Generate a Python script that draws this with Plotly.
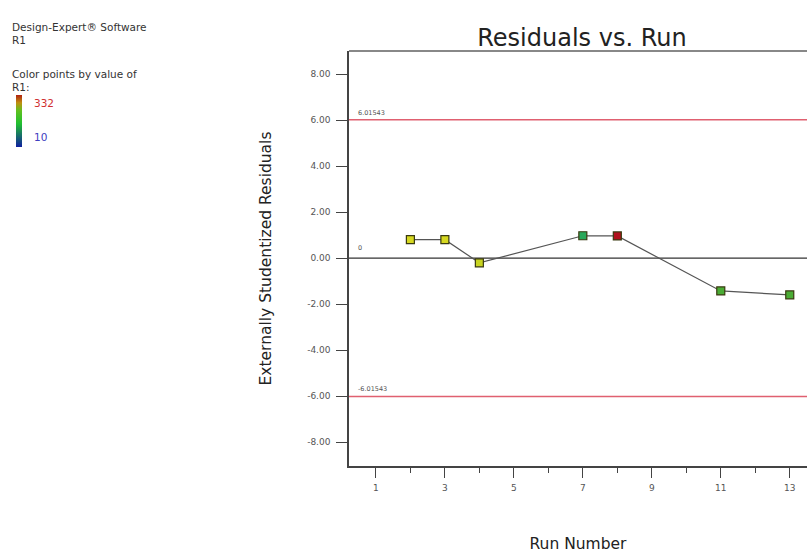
import plotly.graph_objects as go

runs = [2, 3, 4, 7, 8, 11, 13]
residuals = [0.80, 0.80, -0.21, 0.97, 0.96, -1.43, -1.60]
point_colors = ["#d6d820", "#d6d820", "#c8d420", "#2aa85a", "#b0101c", "#4aac34", "#4aac34"]
limit = 6.01543
y_ticks = [-8, -6, -4, -2, 0, 2, 4, 6, 8]
x_ticks = [1, 3, 5, 7, 9, 11, 13]

FONT = "DejaVu Sans, Liberation Sans, Arial, sans-serif"
W, H = 807, 553
L, T, B = 349, 51, 87
PW = W - L
PH = H - T - B

fig = go.Figure()

# zero and limit lines
fig.add_trace(go.Scatter(x=[0.2, 13.6], y=[0, 0], mode="lines",
                         line=dict(color="#333333", width=1.2), hoverinfo="skip", showlegend=False))
for v in (limit, -limit):
    fig.add_trace(go.Scatter(x=[0.2, 13.6], y=[v, v], mode="lines",
                             line=dict(color="#e06070", width=1.5), hoverinfo="skip", showlegend=False))

fig.add_trace(go.Scatter(
    x=runs, y=residuals, mode="lines+markers",
    line=dict(color="#555555", width=1.2),
    marker=dict(symbol="square", size=8, color=point_colors,
                line=dict(color="#3a3a10", width=1.2)),
    showlegend=False))

# dummy trace for the colour bar
fig.add_trace(go.Scatter(
    x=[None], y=[None], mode="markers", hoverinfo="skip", showlegend=False,
    marker=dict(color=[10, 332], cmin=10, cmax=332,
                colorscale=[[0, "#1020a0"], [0.45, "#20c030"], [0.7, "#60c020"], [0.85, "#c09010"], [1, "#b02010"]],
                showscale=True,
                colorbar=dict(x=(16 - L) / PW, xanchor="left", y=(H - B - 121) / PH, yanchor="middle",
                              thickness=6, thicknessmode="pixels", len=52, lenmode="pixels",
                              xpad=0, ypad=0,
                              outlinewidth=0, showticklabels=False, ticks=""))))

fig.update_layout(
    width=W, height=H,
    margin=dict(l=L, r=0, t=T, b=B),
    paper_bgcolor="white", plot_bgcolor="white",
    font=dict(family=FONT, color="#333333"),
    title=dict(text="Residuals vs. Run", x=(582 - L) / PW, xref="paper", xanchor="center",
               y=1 - 38 / H, yref="container", yanchor="middle",
               font=dict(size=24, color="#222222", family=FONT)),
    xaxis=dict(range=[0.22, 13.5], tickmode="array", tickvals=x_ticks,
               ticktext=[str(v) for v in x_ticks],
               ticks="outside", ticklen=10, tickwidth=1.2, tickcolor="#444444",
               ticklabelstandoff=2,
               minor=dict(dtick=1, tick0=0, ticks="outside", ticklen=5, tickcolor="#444444", tickwidth=1.2, showgrid=False),
               showgrid=False, zeroline=False, showline=True, linecolor="#444444", linewidth=1.5,
               tickfont=dict(size=9, color="#555555"),
               title=dict(text="Run Number", font=dict(size=15.5, color="#222222"), standoff=50)),
    yaxis=dict(range=[-9.04, 9.0], tickmode="array", tickvals=y_ticks,
               ticktext=["%.2f" % v for v in y_ticks],
               ticks="outside", ticklen=11, tickwidth=1.2, tickcolor="#444444",
               ticklabelstandoff=4,
               showgrid=False, zeroline=False, showline=True, linecolor="#444444", linewidth=1.5,
               tickfont=dict(size=9, color="#555555"),
               title=dict(text="Externally Studentized Residuals", font=dict(size=15.5, color="#222222"), standoff=32)),
    shapes=[dict(type="line", xref="paper", yref="paper", x0=0, x1=1, y0=1, y1=1,
                 line=dict(color="#888888", width=2))],
)

ann = [
    dict(text="6.01543", x=0.015, xref="paper", y=limit, yref="y", xanchor="left", yanchor="bottom",
         showarrow=False, font=dict(size=6.5, color="#555555"), yshift=1),
    dict(text="-6.01543", x=0.015, xref="paper", y=-limit, yref="y", xanchor="left", yanchor="bottom",
         showarrow=False, font=dict(size=6.5, color="#555555"), yshift=1),
    dict(text="0", x=0.015, xref="paper", y=0, yref="y", xanchor="left", yanchor="bottom",
         showarrow=False, font=dict(size=6.5, color="#555555"), yshift=4),
]

def side(text, px, py, size=10.5, color="#333333"):
    ann.append(dict(text=text, x=(px - L) / PW, xref="paper", y=(H - B - py) / PH, yref="paper",
                    xanchor="left", yanchor="middle", showarrow=False,
                    font=dict(size=size, color=color, family=FONT)))

side("Design-Expert® Software", 10, 27)
side("R1", 10, 40)
side("Color points by value of", 10, 74)
side("R1:", 10, 87)
side("332", 32, 103, 10.5, "#d03030")
side("10", 32, 137, 10.5, "#4040c0")

fig.update_layout(annotations=ann)

fig.write_html("out.html")
